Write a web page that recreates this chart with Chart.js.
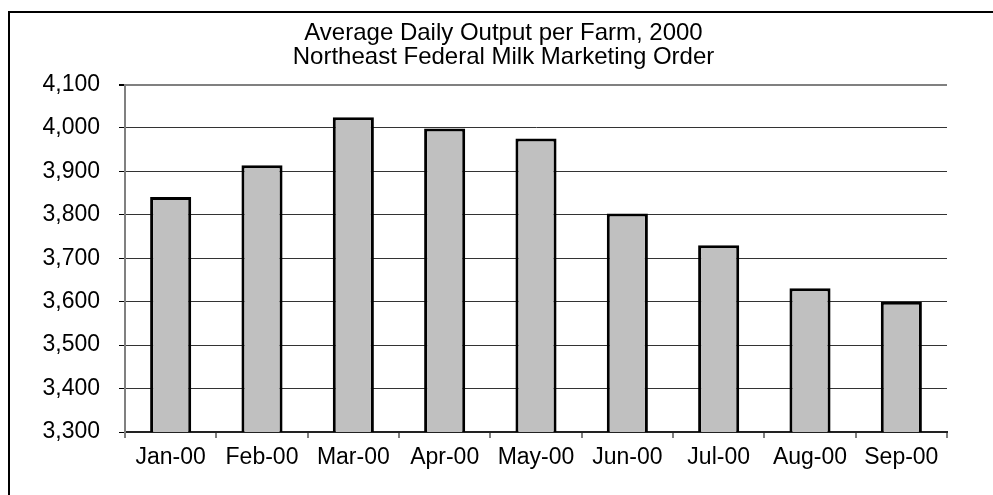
<!DOCTYPE html>
<html>
<head>
<meta charset="utf-8">
<script src="https://cdn.jsdelivr.net/npm/chart.js@4"></script>
<style>
  body { margin: 0; background: #fff; overflow: hidden; }
  .frame { position: absolute; left: 8px; top: 11px; width: 1100px; height: 600px; border: 2px solid #000; }
  .wrap { position: absolute; left: 0; top: 0; width: 993px; height: 495px; }
</style>
</head>
<body>
<div class="frame"></div>
<div class="wrap"><canvas id="chart"></canvas></div>
<script>
const months = ['Jan-00', 'Feb-00', 'Mar-00', 'Apr-00', 'May-00', 'Jun-00', 'Jul-00', 'Aug-00', 'Sep-00'];
const output = [3841, 3914, 4025, 3999, 3976, 3803, 3730, 3631, 3600];
const titleLines = ['Average Daily Output per Farm, 2000', 'Northeast Federal Milk Marketing Order'];
const yMin = 3300;
const yMax = 4100;

const font = 'Liberation Sans, Arial, sans-serif';

const ctx = document.getElementById('chart').getContext('2d');
new Chart(ctx, {
  type: 'bar',
  data: {
    labels: months,
    datasets: [{
      data: output,
      backgroundColor: '#c0c0c0',
      borderColor: '#000',
      borderWidth: 3,
      borderSkipped: 'bottom',
      categoryPercentage: 1,
      barPercentage: 0.45
    }]
  },
  options: {
    responsive: true,
    maintainAspectRatio: false,
    animation: false,
    // uneven side padding moves the title centre a bit right, like the original
    layout: { padding: { left: 40, right: 26, top: 0, bottom: 0 } },
    plugins: {
      legend: { display: false },
      tooltip: { enabled: false },
      title: {
        display: true,
        text: titleLines,
        color: '#000',
        font: { family: font, size: 24, weight: 'normal', lineHeight: 0.97 },
        padding: { top: 22, bottom: 16 }
      }
    },
    scales: {
      x: {
        grid: {
          offset: true,
          color: c => c.index === months.length ? '#808080' : 'transparent',
          lineWidth: 2,
          tickColor: '#000',
          tickLength: 6,
          tickWidth: 1
        },
        border: { color: '#222', width: 2 },
        ticks: {
          color: '#000',
          padding: 6,
          maxRotation: 0,
          font: { family: font, size: 23 }
        },
        afterFit: s => { s.height = 495 - 432; }
      },
      y: {
        min: yMin,
        max: yMax,
        grid: {
          color: c => c.tick && c.tick.value === yMax ? '#808080' : '#333',
          lineWidth: c => c.tick && c.tick.value === yMax ? 2 : 1,
          tickColor: '#000',
          tickLength: 6
        },
        border: { color: '#808080', width: 2 },
        ticks: {
          stepSize: 100,
          color: '#000',
          padding: 19,
          font: { family: font, size: 23 },
          callback: v => v.toLocaleString('en-US')
        },
        afterFit: s => { s.width = 125 - 40; }
      },
      // empty spacer on the right so the plot still ends at x = 947
      spacer: {
        type: 'linear',
        position: 'right',
        display: true,
        grid: { display: false },
        border: { display: false },
        ticks: { display: false },
        afterFit: s => { s.width = 20; }
      }
    }
  }
});
</script>
</body>
</html>
